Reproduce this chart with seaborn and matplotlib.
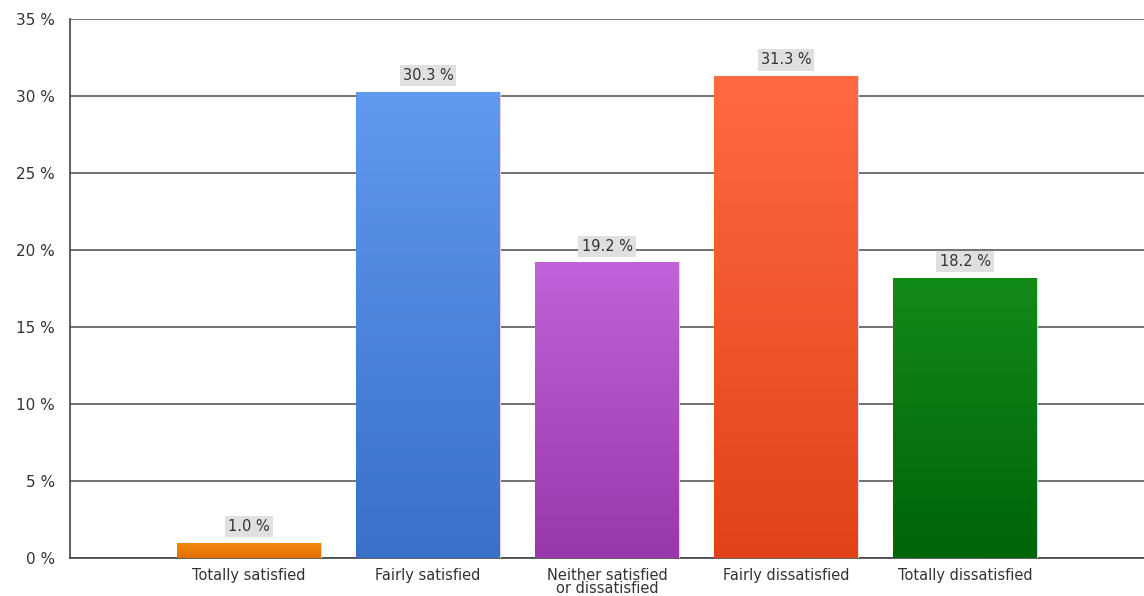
import numpy as np
import pandas as pd
import matplotlib
matplotlib.use("Agg")
import matplotlib.pyplot as plt
import matplotlib.colors as mcolors
import seaborn as sns

# data
categories = ["Totally satisfied", "Fairly satisfied", "Neither satisfied\nor dissatisfied",
              "Fairly dissatisfied", "Totally dissatisfied"]
values = [1.0, 30.3, 19.2, 31.3, 18.2]
top_colors = ["#f48a10", "#6199ee", "#c262da", "#ff6a42", "#128a1a"]
bottom_colors = ["#e06e00", "#3a70c8", "#9838aa", "#e04318", "#006408"]

df = pd.DataFrame({"cat": categories, "val": values})

sns.set_style("white")
plt.rcParams["font.family"] = ["DejaVu Sans"]

fig = plt.figure(figsize=(11.44, 5.96), dpi=100)
ax = fig.add_axes([0.0612, 0.0638, 0.9388, 0.904])

sns.barplot(data=df, x="cat", y="val", hue="cat", palette=top_colors,
            width=0.8, legend=False, ax=ax, zorder=3, saturation=1)

# vertical gradient fill clipped to each bar
for patch, c1, c2 in zip(ax.patches, top_colors, bottom_colors):
    x0, y0 = patch.get_x(), patch.get_y()
    w, h = patch.get_width(), patch.get_height()
    cmap = mcolors.LinearSegmentedColormap.from_list("g", [c2, c1])
    grad = np.linspace(0, 1, 256).reshape(-1, 1)
    im = ax.imshow(grad, cmap=cmap, aspect="auto", origin="lower",
                   extent=[x0, x0 + w, y0, y0 + h], zorder=4)
    im.set_clip_path(patch)
    patch.set_edgecolor("#d8d8d8")
    patch.set_linewidth(0.8)

for i, v in enumerate(values):
    ax.text(i, v + 1.05, f"{v:.1f} %", ha="center", va="center", fontsize=10.5,
            color="#333333", zorder=6,
            bbox=dict(facecolor="#e0e0e0", edgecolor="none", pad=2.2))

ax.set_xlim(-1, 5)
ax.set_ylim(0, 35)
ax.set_yticks(range(0, 36, 5))
ax.set_yticklabels([f"{t} %" for t in range(0, 36, 5)])
ax.set_xlabel("")
ax.set_ylabel("")
ax.yaxis.grid(True, color="#4a4a4a", linewidth=1.1, zorder=1)
ax.set_axisbelow(True)

for s in ["top", "right"]:
    ax.spines[s].set_visible(False)
for s in ["left", "bottom"]:
    ax.spines[s].set_color("#444444")
    ax.spines[s].set_linewidth(1.2)

ax.tick_params(axis="y", length=9, color="#4a4a4a", width=1.1, labelsize=11,
               labelcolor="#333333", pad=2)
ax.tick_params(axis="x", length=5, color="#444444", width=1.1, labelsize=10.5,
               labelcolor="#333333", pad=2, direction="out")
for lab in ax.get_xticklabels():
    lab.set_linespacing(0.9)

fig.savefig("out.png", dpi=100)
